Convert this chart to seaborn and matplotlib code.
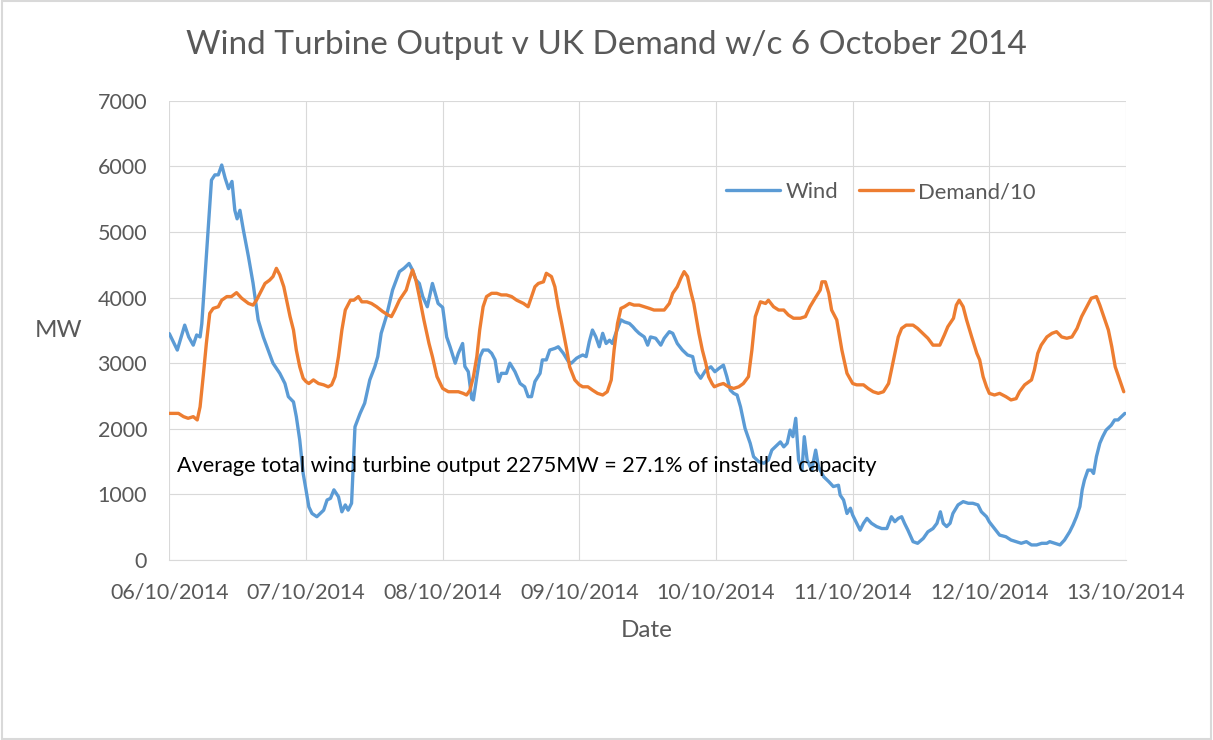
import pandas as pd
import numpy as np
import matplotlib.pyplot as plt
import matplotlib.dates as mdates
import seaborn as sns

# Hours since 00:00 06/10/2014 and values
wind_hours = [0, 1.4, 2.7, 3.4, 4.2, 4.8, 5.4, 5.7, 6.3, 6.8, 7.4, 8.0, 8.6, 9.2, 9.8, 10.4, 11.0, 11.5, 11.9, 12.4,
              13.0, 13.9, 14.7, 15.6, 16.5, 18.2, 19.4, 20.3, 20.9, 21.8, 22.3, 22.9, 23.5, 24.0,
              24.5, 25.05, 25.9, 27.1, 27.7, 28.3, 28.9, 29.7, 30.3, 30.9, 31.4, 32.0, 32.6, 33.5, 34.3, 35.2,
              36.1, 36.6, 37.2, 38.1, 39.2, 40.4, 41.2, 42.1, 42.7, 43.3, 43.9, 44.5, 45.3, 46.2, 47.2, 48.0,
              48.7, 49.3, 50.2, 50.75, 51.5, 51.9, 52.5, 53.1, 53.4, 54.0, 54.55, 55.1, 56.0, 56.6, 57.2, 57.8,
              58.3, 59.2, 59.8, 60.7, 61.6, 62.4, 63.0, 63.6, 64.2, 65.1, 65.5, 66.2, 66.8, 67.7, 68.3, 69.2,
              70.1, 70.6, 71.5, 72.0,
              72.6, 73.2, 73.75, 74.3, 74.9, 75.5, 76.1, 76.7, 77.3, 77.8, 78.4, 79.3, 79.9, 80.8, 81.4, 81.9,
              82.5, 83.4, 84.0, 84.5, 85.4, 86.3, 86.9, 87.8, 88.4, 89.2, 90.1, 91.0, 91.9, 92.5, 93.3, 94.2,
              95.1, 95.8,
              96.5, 97.3, 97.9, 98.5, 99.1, 99.7, 100.3, 101.1, 102.0, 102.6, 103.5, 104.4, 105.2, 105.8, 106.7,
              107.3, 107.9, 108.5, 109.0, 109.5, 110.0, 110.5, 111.1, 111.5, 112.0, 112.8, 113.5, 114.0, 114.9,
              115.8, 116.6, 117.5, 117.8, 118.4, 119.0, 119.6, 120.0,
              120.7, 121.3, 121.9, 122.5, 123.3, 124.2, 125.1, 126.0, 126.8, 127.4, 128.0, 128.6, 129.1, 129.7,
              130.6, 131.4, 132.4, 133.2, 134.1, 134.8, 135.4, 135.9, 136.5, 137.1, 137.6, 138.5, 139.4, 140.3,
              141.1, 142.0, 142.6, 143.5, 144.0,
              144.9, 145.8, 146.9, 147.8, 148.7, 149.6, 150.5, 151.4, 152.3, 153.2, 154.1, 154.6, 155.5, 156.4,
              157.2, 158.1, 158.7, 159.3, 159.9, 160.3, 160.7, 161.3, 161.9, 162.3, 162.8, 163.4, 163.9, 164.5,
              165.4, 166.0, 166.6, 167.2, 167.8]
wind_mw = [3450, 3200, 3580, 3400, 3275, 3430, 3400, 3600, 4370, 5030, 5790, 5870, 5870, 6020, 5820, 5660, 5770, 5330, 5200, 5330,
           5030, 4620, 4220, 3660, 3400, 3000, 2845, 2690, 2490, 2410, 2185, 1830, 1320, 1070,
           810, 710, 660, 760, 915, 940, 1070, 965, 735, 840, 760, 865, 2030, 2235, 2390, 2745,
           2950, 3100, 3455, 3710, 4115, 4395, 4445, 4520, 4420, 4270, 4215, 4015, 3860, 4215, 3910, 3850,
           3400, 3250, 3000, 3150, 3300, 2950, 2870, 2460, 2440, 2795, 3100, 3200, 3200, 3150, 3050, 2720,
           2845, 2845, 3000, 2870, 2690, 2640, 2490, 2490, 2720, 2845, 3050, 3050, 3200, 3225, 3250, 3150,
           3020, 3000, 3075, 3100,
           3125, 3100, 3330, 3505, 3400, 3250, 3455, 3300, 3350, 3300, 3455, 3660, 3630, 3605, 3555, 3505,
           3455, 3400, 3275, 3400, 3380, 3275, 3380, 3480, 3455, 3300, 3200, 3125, 3100, 2870, 2770, 2895,
           2945, 2870,
           2920, 2970, 2795, 2590, 2540, 2515, 2335, 2005, 1780, 1575, 1500, 1475, 1525, 1675, 1750,
           1800, 1725, 1780, 1980, 1880, 2160, 1525, 1370, 1880, 1525, 1370, 1675, 1420, 1270,
           1195, 1120, 1140, 990, 915, 710, 790, 685,
           560, 455, 560, 635, 560, 510, 480, 480, 660, 585, 635, 660, 560, 455,
           280, 255, 330, 430, 480, 560, 735, 560, 510, 560, 710, 840, 890, 865,
           865, 840, 735, 660, 580,
           480, 380, 355, 305, 280, 255, 280, 230, 230, 255, 255, 280, 255, 230,
           305, 430, 535, 660, 815, 1070, 1220, 1370, 1370, 1320, 1575, 1780, 1880, 1980,
           2055, 2135, 2135, 2185, 2235]

demand_hours = [0, 1.6, 2.5, 3.3, 4.2, 4.9, 5.4, 6.0, 6.5, 7.1, 7.7, 8.6, 9.2, 10.1, 10.9, 11.8, 12.7, 13.9, 14.7, 15.3,
                16.2, 16.8, 17.6, 18.2, 18.8, 19.4, 20.1, 20.6, 21.2, 21.8, 22.3, 22.9, 23.5, 24.0,
                24.5, 25.3, 26.2, 27.1, 27.9, 28.5, 29.1, 29.7, 30.3, 30.9, 31.8, 32.4, 33.2, 33.8, 34.7, 35.5,
                36.4, 37.5, 38.4, 39.0, 39.6, 40.4, 41.6, 42.1, 42.7, 43.3, 43.9, 44.7, 45.6, 46.2, 47.0, 48.0,
                49.0, 49.9, 50.75, 51.6, 52.2, 52.8, 53.4, 54.0, 54.5, 55.1, 55.7, 56.6, 57.5, 58.3, 59.2, 60.1,
                61.0, 62.2, 63.0, 63.6, 64.2, 64.8, 65.7, 66.2, 67.1, 67.7, 68.3, 68.9, 69.8, 70.3, 71.2, 72.0,
                72.6, 73.5, 74.3, 75.2, 76.1, 76.9, 77.6, 78.1, 78.7, 79.3, 79.9, 80.8, 81.6, 82.5, 83.4, 84.3,
                85.1, 86.0, 86.9, 87.8, 88.4, 89.2, 89.8, 90.4, 91.0, 91.5, 92.1, 93.0, 93.6, 94.2, 94.7, 95.3, 95.7,
                96.5, 97.3, 98.2, 99.1, 100.0, 100.8, 101.7, 102.3, 102.9, 103.8, 104.7, 105.2, 106.1, 107.0,
                107.9, 108.7, 109.6, 110.8, 111.7, 112.5, 113.4, 114.3, 114.6, 115.2, 115.8, 116.3, 117.2, 118.1,
                119.0, 120.0,
                120.7, 121.9, 122.7, 123.6, 124.5, 125.4, 126.3, 126.8, 127.4, 128.0, 128.6, 129.4, 130.6, 131.4,
                132.3, 133.2, 134.1, 135.3, 136.1, 136.7, 137.7, 138.2, 138.7, 139.4, 140.0, 140.9, 141.8, 142.3,
                142.9, 143.5, 144.0,
                144.9, 145.8, 146.9, 147.8, 148.7, 149.3, 150.2, 151.4, 151.9, 152.5, 153.1, 154.1, 155.0, 155.8,
                156.7, 157.6, 158.5, 159.4, 160.2, 161.1, 161.9, 162.8, 163.4, 164.3, 164.9, 165.5, 166.1, 166.9, 167.6]
demand_mw = [2235, 2235, 2185, 2160, 2185, 2135, 2335, 2845, 3300, 3760, 3835, 3860, 3960, 4015, 4015, 4075, 3990, 3910, 3885, 3960,
             4115, 4215, 4265, 4320, 4445, 4345, 4165, 3960, 3710, 3505, 3200, 2945, 2770, 2720,
             2690, 2745, 2690, 2670, 2640, 2670, 2795, 3100, 3505, 3810, 3960, 3960, 4015, 3935, 3935, 3910,
             3860, 3785, 3735, 3710, 3810, 3960, 4115, 4265, 4420, 4265, 4015, 3660, 3300, 3100, 2795, 2615,
             2565, 2565, 2565, 2540, 2515, 2590, 2795, 3100, 3505, 3860, 4015, 4065, 4065, 4040, 4040, 4015,
             3960, 3910, 3860, 4015, 4165, 4215, 4240, 4370, 4320, 4165, 3860, 3605, 3200, 2945, 2745, 2670,
             2640, 2640, 2590, 2540, 2515, 2565, 2745, 3200, 3605, 3835, 3860, 3910, 3885, 3885, 3860, 3835,
             3810, 3810, 3810, 3910, 4065, 4165, 4290, 4395, 4320, 4115, 3910, 3455, 3200, 3000, 2795, 2690, 2640,
             2670, 2690, 2640, 2615, 2640, 2690, 2795, 3200, 3710, 3935, 3910, 3960, 3860, 3810,
             3810, 3735, 3685, 3685, 3710, 3860, 3990, 4115, 4240, 4240, 4065, 3810, 3660, 3200,
             2845, 2690,
             2670, 2670, 2615, 2565, 2540, 2565, 2690, 2895, 3150, 3400, 3530, 3580, 3580, 3530,
             3455, 3380, 3275, 3275, 3430, 3555, 3685, 3885, 3960, 3860, 3660, 3400, 3150, 3050,
             2795, 2640, 2540,
             2515, 2540, 2490, 2440, 2460, 2565, 2670, 2745, 2895, 3150, 3275, 3400, 3455, 3480,
             3400, 3380, 3400, 3530, 3710, 3860, 3990, 4015, 3885, 3660, 3505, 3250, 2945, 2745, 2565]

start = pd.Timestamp('2014-10-06')
wind = pd.DataFrame({'Date': start + pd.to_timedelta(wind_hours, unit='h'), 'MW': wind_mw})
demand = pd.DataFrame({'Date': start + pd.to_timedelta(demand_hours, unit='h'), 'MW': demand_mw})

sns.set_style('whitegrid', {'grid.color': '#d9d9d9', 'axes.edgecolor': '#d9d9d9'})
plt.rcParams['font.family'] = ['Lato', 'DejaVu Sans']

fig = plt.figure(figsize=(12.13, 7.40), dpi=100)
ax = fig.add_axes([0.1396, 0.2432, 0.7887, 0.6207])

sns.lineplot(data=wind, x='Date', y='MW', ax=ax, color='#5B9BD5', linewidth=2.4, label='Wind')
sns.lineplot(data=demand, x='Date', y='MW', ax=ax, color='#ED7D31', linewidth=2.4, label='Demand/10')

ax.set_ylim(0, 7000)
ax.set_yticks(range(0, 7001, 1000))
ax.set_xlim(start, start + pd.Timedelta(days=7))
ax.xaxis.set_major_locator(mdates.DayLocator())
ax.xaxis.set_major_formatter(mdates.DateFormatter('%d/%m/%Y'))
ax.tick_params(axis='both', colors='#595959', labelsize=15.5, length=0)
ax.tick_params(axis='x', pad=16)
ax.tick_params(axis='y', pad=16)
for s in ['left', 'right', 'top']:
    ax.spines[s].set_visible(False)
ax.spines['bottom'].set_color('#d9d9d9')

# axis labels
ax.set_xlabel('Date', fontsize=17.5, color='#595959', va='center')
ax.xaxis.set_label_coords(0.4993, -0.1524)
ax.set_ylabel('MW', fontsize=17.5, color='#595959', rotation=0, ha='center', va='center')
ax.yaxis.set_label_coords(-0.116, 0.5)

fig.text(0.5, 1 - 45 / 740, 'Wind Turbine Output v UK Demand w/c 6 October 2014', fontsize=24,
         color='#595959', ha='center', va='center')

ax.text(0.008, 0.2047, 'Average total wind turbine output 2275MW = 27.1% of installed capacity',
        transform=ax.transAxes, fontsize=15.6, color='black', va='center')

ax.legend(loc='center left', bbox_to_anchor=(0.582, 0.801), ncol=2, frameon=False, fontsize=15.8,
          borderaxespad=0, borderpad=0, handlelength=2.46, handletextpad=0.23, columnspacing=0.96,
          labelcolor='#595959')

# chart border
fig.patches.append(plt.Rectangle((0.002, 0.002), 0.996, 0.996, transform=fig.transFigure,
                                 fill=False, edgecolor='#d9d9d9', linewidth=1.5))

plt.savefig('out.png', dpi=100)
